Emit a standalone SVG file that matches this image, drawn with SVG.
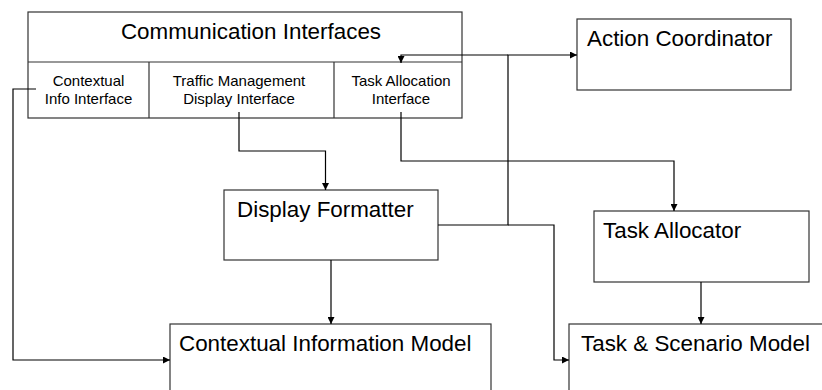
<svg xmlns="http://www.w3.org/2000/svg" width="822" height="390" viewBox="0 0 822 390">
<style>
.box{fill:#fff;stroke:#333;stroke-width:1.2}
.c{fill:none;stroke:#000;stroke-width:1.2}
.big{font-family:"Liberation Sans",Arial,sans-serif;font-size:22.4px;fill:#000}
.sm{font-family:"Liberation Sans",Arial,sans-serif;font-size:15px;fill:#000;text-anchor:middle}
</style>
<defs>
<marker id="ah" markerUnits="userSpaceOnUse" markerWidth="8" markerHeight="7" refX="7" refY="3.5" orient="auto">
<path d="M0,0 L7,3.5 L0,7 Z" fill="#000"/>
</marker>
</defs>
<rect width="822" height="390" fill="#fff"/>
<g id="comm">
<rect class="box" x="28" y="12" width="434" height="106"/>
<line class="box" x1="28" y1="62" x2="462" y2="62"/>
<line class="box" x1="149" y1="62" x2="149" y2="118"/>
<line class="box" x1="334" y1="62" x2="334" y2="118"/>
<text class="big" x="251" y="39" text-anchor="middle">Communication Interfaces</text>
<text class="sm" x="88.5" y="86">Contextual</text>
<text class="sm" x="88.5" y="104">Info Interface</text>
<text class="sm" x="239" y="86">Traffic Management</text>
<text class="sm" x="239" y="104">Display Interface</text>
<text class="sm" x="401" y="86">Task Allocation</text>
<text class="sm" x="401" y="104">Interface</text>
</g>
<g id="action">
<rect class="box" x="577" y="19" width="214" height="71"/>
<text class="big" x="587" y="46">Action Coordinator</text>
</g>
<g id="display">
<rect class="box" x="224" y="190" width="214" height="70"/>
<text class="big" x="237" y="217">Display Formatter</text>
</g>
<g id="allocator">
<rect class="box" x="594" y="211" width="215" height="71"/>
<text class="big" x="603" y="238">Task Allocator</text>
</g>
<g id="cim">
<rect class="box" x="170" y="324" width="321" height="80"/>
<text class="big" x="179" y="351">Contextual Information Model</text>
</g>
<g id="tsm">
<rect class="box" x="569" y="324" width="270" height="80"/>
<text class="big" x="581" y="351">Task &amp; Scenario Model</text>
</g>
<g id="connectors">
<polyline class="c" points="36,89 13,89 13,360 170,360" marker-end="url(#ah)"/>
<polyline class="c" points="239,112 239,151 325.5,151 325.5,190" marker-end="url(#ah)"/>
<polyline class="c" points="401,112 401,161 674,161 674,211" marker-end="url(#ah)"/>
<polyline class="c" points="438,225 508,225 508,55 577,55" marker-end="url(#ah)"/>
<polyline class="c" points="508,55 401,55 401,63" marker-end="url(#ah)"/>
<polyline class="c" points="508,225 554,225 554,360 569,360" marker-end="url(#ah)"/>
<polyline class="c" points="331,260 331,324" marker-end="url(#ah)"/>
<polyline class="c" points="701,282 701,324" marker-end="url(#ah)"/>
</g>
</svg>
